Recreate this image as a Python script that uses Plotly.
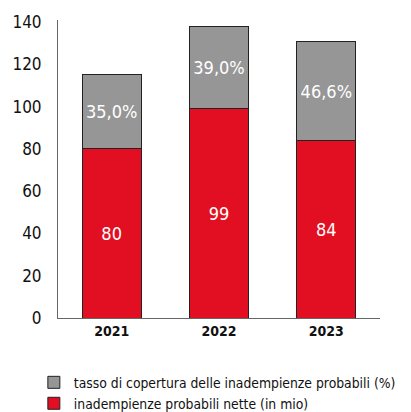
import plotly.graph_objects as go

years = ["2021", "2022", "2023"]
net_utp = [80, 99, 84]            # inadempienze probabili nette (in mio)
coverage_pct = [35.0, 39.0, 46.6]  # tasso di copertura (%)
y_ticks = [0, 20, 40, 60, 80, 100, 120, 140]

RED = "#e10f21"
GREY = "#969696"
FONT = "DejaVu Sans Condensed, Roboto, sans-serif"

def it_fmt(v):
    return f"{v:.1f}".replace(".", ",") + "%"

fig = go.Figure()
fig.add_trace(go.Bar(
    x=years, y=net_utp, name="inadempienze probabili nette (in mio)",
    marker=dict(color=RED, line=dict(color="#222222", width=1)),
    text=[str(v) for v in net_utp], textposition="inside",
    insidetextanchor="middle", textangle=0,
    textfont=dict(color="white", size=18, family=FONT),
))
fig.add_trace(go.Bar(
    x=years, y=coverage_pct, name="tasso di copertura delle inadempienze probabili (%)",
    marker=dict(color=GREY, line=dict(color="#222222", width=1)),
    text=[it_fmt(v) for v in coverage_pct], textposition="inside",
    insidetextanchor="middle", textangle=0,
    textfont=dict(color="white", size=18, family=FONT),
))

fig.update_layout(
    barmode="stack",
    bargap=0.45,
    width=403, height=404,
    margin=dict(l=50, r=31, t=12, b=94, autoexpand=False),
    paper_bgcolor="white", plot_bgcolor="white",
    font=dict(family=FONT, color="#111111"),
    showlegend=True,
    legend=dict(
        traceorder="reversed",
        x=-0.075, xanchor="left", y=-0.164, yanchor="top",
        font=dict(size=13.8, family=FONT, color="#111111"),
        itemwidth=30, tracegroupgap=0,
        bgcolor="rgba(0,0,0,0)",
    ),
    xaxis=dict(
        showline=True, linecolor="#666666", linewidth=1,
        showgrid=False, ticks="",
        tickfont=dict(size=14, family=FONT, color="#111111", weight="bold"),
    ),
    yaxis=dict(
        range=[0, 141], tickvals=y_ticks,
        showline=True, linecolor="#666666", linewidth=1,
        showgrid=False, zeroline=False, ticks="",
        ticklabelstandoff=12,
        tickfont=dict(size=17, family=FONT, color="#111111"),
    ),
)

fig.write_html("out.html")
